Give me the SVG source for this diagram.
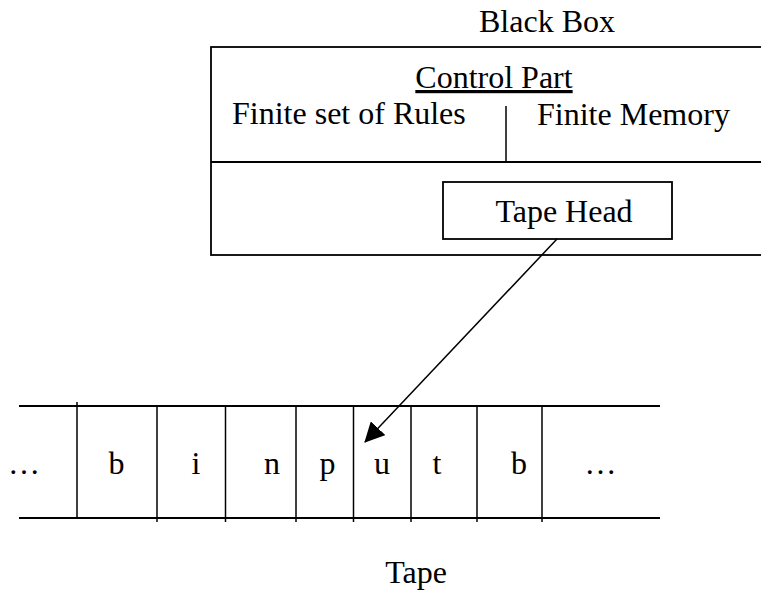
<svg xmlns="http://www.w3.org/2000/svg" width="761" height="592" viewBox="0 0 761 592">
  <style>
    .ln { stroke: #000; stroke-width: 1.8; fill: none; }
    .dv { stroke: #000; stroke-width: 1.5; fill: none; }
    .t { font-family: "Liberation Serif", "Times New Roman", serif; font-size: 32px; fill: #000; }
    .c { text-anchor: middle; }
  </style>
  <defs>
    <marker id="arrow" markerUnits="userSpaceOnUse" markerWidth="20" markerHeight="20" viewBox="0 0 20 20" refX="19" refY="10" orient="auto">
      <path d="M0,0 L20,10 L0,20 Z" fill="#000"/>
    </marker>
  </defs>
  <rect width="761" height="592" fill="#fff"/>

  <text class="t c" x="547" y="32">Black Box</text>

  <g id="black-box">
    <rect class="ln" x="211" y="47" width="570" height="208"/>
    <line class="ln" x1="211" y1="162" x2="770" y2="162"/>
  </g>

  <g id="control-part">
    <text class="t c" x="494" y="88" text-decoration="underline">Control Part</text>
    <text class="t" x="232" y="124">Finite set of Rules</text>
    <line class="dv" x1="506" y1="106" x2="506" y2="162"/>
    <text class="t" x="537" y="125">Finite Memory</text>
  </g>

  <g id="tape-head">
    <rect class="ln" x="443" y="182" width="229" height="57"/>
    <text class="t c" x="564" y="222">Tape Head</text>
  </g>

  <g id="tape">
    <line class="ln" x1="19" y1="406" x2="660" y2="406"/>
    <line class="ln" x1="19" y1="518" x2="660" y2="518"/>
    <line class="dv" x1="77" y1="402" x2="77" y2="518"/>
    <line class="dv" x1="157" y1="406" x2="157" y2="522"/>
    <line class="dv" x1="225.5" y1="406" x2="225.5" y2="522"/>
    <line class="dv" x1="296" y1="406" x2="296" y2="522"/>
    <line class="dv" x1="353.5" y1="406" x2="353.5" y2="522"/>
    <line class="dv" x1="411" y1="406" x2="411" y2="522"/>
    <line class="dv" x1="477" y1="406" x2="477" y2="522"/>
    <line class="dv" x1="542" y1="406" x2="542" y2="522"/>
    <text class="t c" x="24" y="474">…</text>
    <text class="t c" x="116.5" y="474">b</text>
    <text class="t c" x="196" y="474">i</text>
    <text class="t c" x="272" y="474">n</text>
    <text class="t c" x="327.5" y="474">p</text>
    <text class="t c" x="382" y="474">u</text>
    <text class="t c" x="437" y="474">t</text>
    <text class="t c" x="519" y="474">b</text>
    <text class="t c" x="600.5" y="474">…</text>
  </g>

  <text class="t c" x="416" y="583">Tape</text>

  <g id="connectors">
    <line class="dv" x1="557" y1="239" x2="365" y2="442" marker-end="url(#arrow)"/>
  </g>
</svg>
